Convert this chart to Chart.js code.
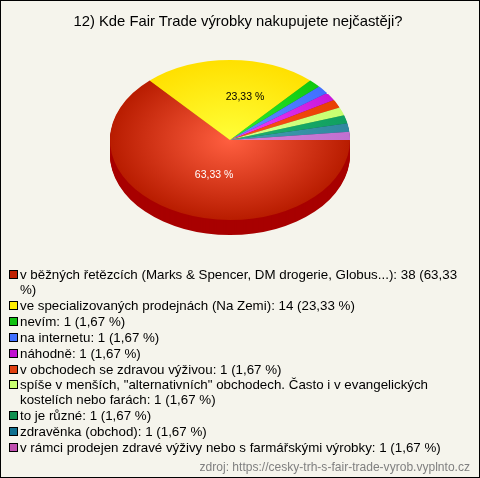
<!DOCTYPE html>
<html>
<head>
<meta charset="utf-8">
<script src="https://cdn.jsdelivr.net/npm/chart.js"></script>
<style>
    html, body { margin: 0; padding: 0; background: #f5f4ec; }
    #wrap { position: relative; width: 478px; height: 476px; border: 1px solid #000; overflow: hidden; background: #f5f4ec; font-family: "Liberation Sans", Arial, sans-serif; color: #000; }
    #pie { position: absolute; left: -1px; top: -1px; }
    #title { position: absolute; left: -4px; right: 0; top: 11px; text-align: center; font-size: 14.8px; line-height: 18px; }
    #legend { position: absolute; left: 8px; top: 266.3px; width: 462px; margin: 0; padding: 0; list-style: none; font-size: 13.33px; line-height: 15px; }
    #legend li { position: relative; padding-left: 11px; margin-bottom: 0.85px; }
    #legend i { position: absolute; left: 0; top: 3px; width: 7px; height: 7px; border: 1px solid #000; }
    #source { position: absolute; right: 9px; top: 459px; font-size: 12.05px; line-height: 14px; color: #808080; }
</style>
</head>
<body>
<div id="wrap">
    <canvas id="pie" width="480" height="478"></canvas>
    <div id="title">12) Kde Fair Trade výrobky nakupujete nejčastěji?</div>
    <ul id="legend"></ul>
    <div id="source">zdroj: https://cesky-trh-s-fair-trade-vyrob.vyplnto.cz</div>
</div>
<script>
const categories = [
    'v běžných řetězcích (Marks & Spencer, DM drogerie, Globus...)',
    've specializovaných prodejnách (Na Zemi)',
    'nevím',
    'na internetu',
    'náhodně',
    'v obchodech se zdravou výživou',
    'spíše v menších, "alternativních" obchodech. Často i v evangelických kostelích nebo farách',
    'to je různé',
    'zdravěnka (obchod)',
    'v rámci prodejen zdravé výživy nebo s farmářskými výrobky'
];
const counts = [38, 14, 1, 1, 1, 1, 1, 1, 1, 1];
const percents = ['63,33 %', '23,33 %', '1,67 %', '1,67 %', '1,67 %', '1,67 %', '1,67 %', '1,67 %', '1,67 %', '1,67 %'];

const swatchColors = ['#c02000', '#ffee00', '#10c010', '#4070ff', '#c010d0', '#e04010', '#c8ff70', '#109050', '#107090', '#c050b0'];
const innerColors = ['#ff5f40', '#ffff38', '#30f030', '#6090ff', '#f040ff', '#ff5020', '#d8ff90', '#20b070', '#40a0b0', '#d880d8'];
const outerColors = ['#b81c00', '#ffe000', '#10c810', '#4070ff', '#c818d8', '#e84000', '#c8ff70', '#10a060', '#3088a0', '#c070d0'];
const sideColors = ['#a80000', '#c0a000', '#008000', '#2040c0', '#900090', '#a02000', '#90c040', '#006030', '#005060', '#804080'];

const squash = 2 / 3;   // flattens the round pie to the ellipse
const depth = 15;

// the 3d look: draw the rim first, then squash the real arcs
const tiltPlugin = {
    id: 'tilt',
    beforeDatasetsDraw(chart) {
        const ctx = chart.ctx;
        const arcs = chart.getDatasetMeta(0).data;
        for (let d = depth; d > 0; d--) {
            arcs.forEach((arc, i) => {
                ctx.save();
                ctx.translate(arc.x, arc.y + d);
                ctx.scale(1, squash);
                ctx.fillStyle = sideColors[i];
                ctx.beginPath();
                ctx.moveTo(0, 0);
                ctx.arc(0, 0, arc.outerRadius, arc.startAngle, arc.endAngle);
                ctx.closePath();
                ctx.fill();
                ctx.restore();
            });
        }
        const first = arcs[0];
        ctx.save();
        ctx.translate(first.x, first.y);
        ctx.scale(1, squash);
        ctx.translate(-first.x, -first.y);
    },
    afterDatasetsDraw(chart) {
        const ctx = chart.ctx;
        ctx.restore();
        // percent labels, only the big slices get one
        const total = counts.reduce((sum, v) => sum + v, 0);
        ctx.save();
        ctx.font = '10.5px "Liberation Sans", Arial, sans-serif';
        ctx.textAlign = 'center';
        ctx.textBaseline = 'middle';
        chart.getDatasetMeta(0).data.forEach((arc, i) => {
            if (counts[i] / total < 0.05) return;
            const mid = (arc.startAngle + arc.endAngle) / 2;
            ctx.fillStyle = i === 0 ? '#ffffff' : '#000000';
            ctx.fillText(percents[i], arc.x + 15 + 76 * Math.cos(mid), arc.y - 2 + 41 * Math.sin(mid));
        });
        ctx.restore();
    }
};

new Chart(document.getElementById('pie').getContext('2d'), {
    type: 'pie',
    data: {
        labels: categories,
        datasets: [{
            data: counts,
            borderWidth: 0,
            backgroundColor(c) {
                const area = c.chart.chartArea;
                if (!area) return outerColors[c.dataIndex];
                const x = (area.left + area.right) / 2;
                const y = (area.top + area.bottom) / 2;
                const g = c.chart.ctx.createRadialGradient(x, y, 0, x, y, 120);
                g.addColorStop(0, innerColors[c.dataIndex]);
                g.addColorStop(1, outerColors[c.dataIndex]);
                return g;
            }
        }]
    },
    options: {
        responsive: false,
        animation: false,
        rotation: 90,
        layout: { padding: { left: 110, right: 130, top: 20, bottom: 218 } },
        plugins: { legend: { display: false }, title: { display: false }, tooltip: { enabled: false } }
    },
    plugins: [tiltPlugin]
});

// legend list under the pie
const legend = document.getElementById('legend');
categories.forEach((name, i) => {
    const li = document.createElement('li');
    const box = document.createElement('i');
    box.style.background = swatchColors[i];
    li.appendChild(box);
    li.appendChild(document.createTextNode(name + ': ' + counts[i] + ' (' + percents[i] + ')'));
    legend.appendChild(li);
});
</script>
</body>
</html>
